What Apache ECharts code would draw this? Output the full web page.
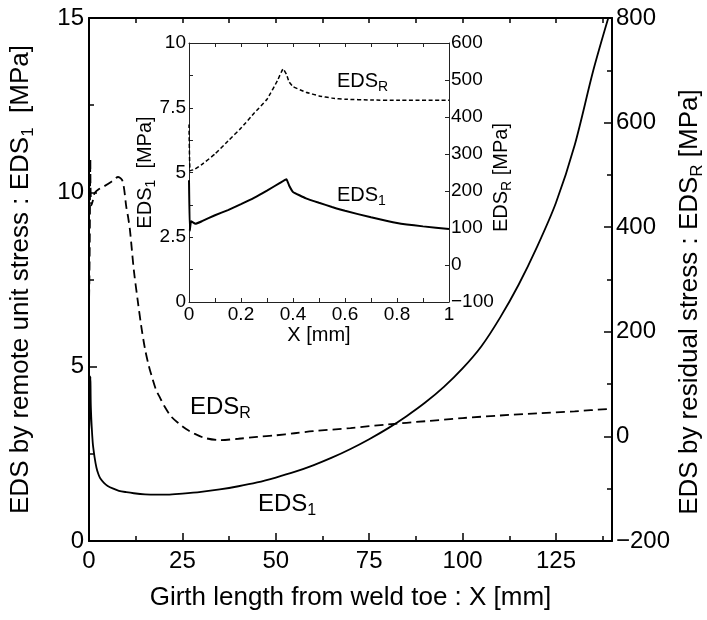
<!DOCTYPE html>
<html>
<head>
<meta charset="utf-8">
<script src="https://cdn.jsdelivr.net/npm/echarts@6/dist/echarts.min.js"></script>
<style>
  html, body { margin: 0; padding: 0; background: #fff; }
  #chart { width: 707px; height: 620px; }
</style>
</head>
<body>
<div id="chart"></div>
<script>
const FONT = '"Liberation Sans", Arial, Helvetica, sans-serif';

// main plot: girth length X [mm]
const mainX1 = [0, 0.003, 0.01, 0.1, 0.2, 0.375, 0.5, 1, 1.5, 2, 2.5, 3, 4, 5, 6.5, 8, 10, 12,
  15, 18, 21, 25, 30, 35, 40, 45, 50, 55, 60, 65, 70, 75, 80, 85, 90, 95, 100, 105,
  110, 115, 120, 125, 130, 135, 139];
const mainEds1 = [4.7, 2.75, 3.12, 3.35, 3.78, 4.72, 3.83, 2.82, 2.4, 2.1, 1.92, 1.8, 1.67, 1.58, 1.5, 1.44, 1.4, 1.37,
  1.34, 1.33, 1.33, 1.36, 1.41, 1.48, 1.57, 1.68, 1.82, 1.98, 2.17, 2.39, 2.64, 2.92, 3.23, 3.58, 3.97, 4.42, 4.95, 5.58,
  6.4, 7.35, 8.45, 9.7, 11.35, 13.5, 15];
const mainXR = [0, 0.004, 0.1, 0.2, 0.362, 0.4, 0.64, 1, 1.5, 2.5, 4, 6, 7.8, 9, 10, 10.5, 11, 12,
  13, 14, 15, 16, 17, 18, 19, 20, 22, 24, 26, 28, 31, 35, 40, 45, 50, 55, 60, 70,
  80, 90, 100, 110, 120, 130, 140];
const mainEdsR = [380, 255, 300, 370, 530, 482, 442, 450, 465, 472, 478, 487, 496, 488, 438, 418, 392, 318,
  262, 210, 167, 135, 110, 88, 74, 60, 38, 25, 14, 6, -3, -7, -4.5, -1, 2, 6, 10, 16,
  23, 29, 35, 40, 44, 48, 53];

// inset: first millimetre
const insetX1 = [0, 0.003, 0.008, 0.025, 0.05, 0.1, 0.15, 0.2, 0.25, 0.3, 0.35, 0.375, 0.385, 0.4,
  0.45, 0.5, 0.55, 0.6, 0.7, 0.8, 0.9, 1.0];
const insetEds1 = [4.7, 2.75, 3.12, 3.02, 3.12, 3.35, 3.55, 3.78, 4.02, 4.3, 4.6, 4.74, 4.5, 4.25,
  4.0, 3.83, 3.67, 3.52, 3.27, 3.05, 2.92, 2.82];
const insetXR = [0, 0.004, 0.02, 0.05, 0.1, 0.15, 0.2, 0.25, 0.3, 0.34, 0.362, 0.375, 0.385, 0.4,
  0.45, 0.5, 0.55, 0.6, 0.7, 0.8, 1.0];
const insetEdsR = [380, 255, 258, 272, 300, 335, 370, 410, 448, 498, 530, 515, 495, 482,
  467, 457, 451, 448, 446, 445, 445];

// labelled ticks
const mainXTicks = [0, 25, 50, 75, 100, 125];
const insetXTicks = [0, 0.2, 0.4, 0.6, 0.8, 1];
const insetYTicks = [0, 2.5, 5, 7.5, 10];

const zip = (xs, ys) => xs.map((x, i) => [x, ys[i]]);
const hasTick = (list, v) => list.some(t => Math.abs(t - v) < 1e-6);
const minus = v => (v < 0 ? '\u2212' + (-v) : String(v));

const richBig = {
  a: { fontFamily: FONT, fontSize: 26, lineHeight: 32, color: '#000', verticalAlign: 'middle' },
  s: { fontFamily: FONT, fontSize: 17, lineHeight: 15, color: '#000', verticalAlign: 'bottom' }
};
const richMid = {
  a: { fontFamily: FONT, fontSize: 24, lineHeight: 30, color: '#000', verticalAlign: 'middle' },
  s: { fontFamily: FONT, fontSize: 16, lineHeight: 14, color: '#000', verticalAlign: 'bottom' }
};
const richSmall = {
  a: { fontFamily: FONT, fontSize: 20, lineHeight: 26, color: '#000', verticalAlign: 'middle' },
  s: { fontFamily: FONT, fontSize: 14, lineHeight: 12, color: '#000', verticalAlign: 'bottom' }
};

const mainLine = { show: true, onZero: false, lineStyle: { color: '#000', width: 2 } };
const mainTick = { color: '#000', width: 1.5 };
const insetLine = { show: true, onZero: false, lineStyle: { color: '#222', width: 1 } };
const insetTick = { color: '#222', width: 1 };
const bigLabel = { fontFamily: FONT, fontSize: 24, color: '#000' };
const smallLabel = { fontFamily: FONT, fontSize: 19, color: '#000' };

const chart = echarts.init(document.getElementById('chart'));

chart.setOption({
  animation: false,
  backgroundColor: '#fff',
  grid: [
    { left: 89, right: 95, top: 18, bottom: 79, outerBoundsMode: 'none' },
    { left: 189, top: 43, width: 260, height: 259, outerBoundsMode: 'none' }
  ],
  xAxis: [
    {
      gridIndex: 0, type: 'value', position: 'bottom', min: 0, max: 140, interval: 12.5,
      axisLine: mainLine,
      axisTick: { inside: true, length: 5, lineStyle: mainTick },
      axisLabel: Object.assign({ margin: 8, formatter: v => (hasTick(mainXTicks, v) ? String(v) : '') }, bigLabel),
      splitLine: { show: false },
      name: 'Girth length from weld toe : X [mm]', nameLocation: 'middle', nameGap: 44, nameMoveOverlap: false,
      nameTextStyle: { fontFamily: FONT, fontSize: 26, color: '#000' }
    },
    {
      gridIndex: 0, type: 'value', position: 'bottom', min: 0, max: 140, interval: 25,
      axisLine: { show: false, onZero: false },
      axisTick: { inside: true, length: 8, lineStyle: mainTick },
      axisLabel: { show: false }, splitLine: { show: false }
    },
    {
      gridIndex: 0, type: 'value', position: 'top', min: 0, max: 140, interval: 12.5,
      axisLine: mainLine,
      axisTick: { inside: true, length: 5, lineStyle: mainTick },
      axisLabel: { show: false }, splitLine: { show: false }
    },
    {
      gridIndex: 1, type: 'value', position: 'bottom', min: 0, max: 1, interval: 0.1,
      axisLine: insetLine,
      axisTick: { inside: true, length: 4, lineStyle: insetTick },
      axisLabel: Object.assign({ margin: 3, formatter: v => (hasTick(insetXTicks, v) ? String(+v.toFixed(1)) : '') }, smallLabel),
      splitLine: { show: false },
      name: 'X [mm]', nameLocation: 'middle', nameGap: 23, nameMoveOverlap: false,
      nameTextStyle: { fontFamily: FONT, fontSize: 20, color: '#000' }
    },
    {
      gridIndex: 1, type: 'value', position: 'top', min: 0, max: 1, interval: 0.1,
      axisLine: insetLine,
      axisTick: { inside: true, length: 4, lineStyle: insetTick },
      axisLabel: { show: false }, splitLine: { show: false }
    }
  ],
  yAxis: [
    {
      gridIndex: 0, type: 'value', position: 'left', min: 0, max: 15, interval: 5,
      axisLine: mainLine,
      axisTick: { inside: true, length: 8, lineStyle: mainTick },
      minorTick: { show: true, splitNumber: 2, length: 5, lineStyle: mainTick },
      axisLabel: Object.assign({ margin: 5 }, bigLabel),
      splitLine: { show: false },
      name: '{a|EDS by remote unit stress : EDS}{s|1}{a|  [MPa]}',
      nameLocation: 'middle', nameRotate: 90, nameGap: 52, nameMoveOverlap: false,
      nameTextStyle: { rich: richBig }
    },
    {
      gridIndex: 0, type: 'value', position: 'right', min: -200, max: 800, interval: 200,
      axisLine: mainLine,
      axisTick: { inside: true, length: 8, lineStyle: mainTick },
      minorTick: { show: true, splitNumber: 2, length: 5, lineStyle: mainTick },
      axisLabel: Object.assign({ margin: 4, formatter: minus }, bigLabel),
      splitLine: { show: false },
      name: '{a|EDS by residual stress : EDS}{s|R}{a| [MPa]}',
      nameLocation: 'middle', nameRotate: 90, nameGap: 62, nameMoveOverlap: false,
      nameTextStyle: { rich: richBig, padding: [0, 45, 0, 0] }
    },
    {
      gridIndex: 1, type: 'value', position: 'left', min: 0, max: 10, interval: 1.25,
      axisLine: insetLine,
      axisTick: { inside: true, length: 4, lineStyle: insetTick },
      axisLabel: Object.assign({ margin: 3, formatter: v => (hasTick(insetYTicks, v) ? String(v) : '') }, smallLabel),
      splitLine: { show: false },
      name: '{a|EDS}{s|1}{a|  [MPa]}',
      nameLocation: 'middle', nameRotate: 90, nameGap: 31, nameMoveOverlap: false,
      nameTextStyle: { rich: richSmall }
    },
    {
      gridIndex: 1, type: 'value', position: 'right', min: -100, max: 600, interval: 100,
      axisLine: insetLine,
      axisTick: { inside: true, length: 4, lineStyle: insetTick },
      axisLabel: Object.assign({ margin: 2, formatter: minus }, smallLabel),
      splitLine: { show: false },
      name: '{a|EDS}{s|R}{a| [MPa]}',
      nameLocation: 'middle', nameRotate: 90, nameGap: 39, nameMoveOverlap: false,
      nameTextStyle: { rich: richSmall, padding: [0, 10, 0, 0] }
    }
  ],
  series: [
    {
      type: 'line', xAxisIndex: 0, yAxisIndex: 0, data: zip(mainX1, mainEds1),
      symbol: 'none', smooth: 0.3,
      lineStyle: { color: '#000', width: 1.8 }
    },
    {
      type: 'line', xAxisIndex: 0, yAxisIndex: 1, data: zip(mainXR, mainEdsR),
      symbol: 'none', smooth: 0.3,
      lineStyle: { color: '#000', width: 1.8, type: [9, 5] }
    },
    {
      type: 'line', xAxisIndex: 3, yAxisIndex: 2, data: zip(insetX1, insetEds1),
      symbol: 'none', smooth: 0.1,
      lineStyle: { color: '#000', width: 2 }
    },
    {
      type: 'line', xAxisIndex: 3, yAxisIndex: 3, data: zip(insetXR, insetEdsR),
      symbol: 'none', smooth: 0.1,
      lineStyle: { color: '#000', width: 1.5, type: [4, 2.5] }
    }
  ],
  graphic: [
    { type: 'text', x: 190, y: 392, style: { text: '{a|EDS}{s|R}', rich: richMid, align: 'left', verticalAlign: 'top' } },
    { type: 'text', x: 258, y: 489, style: { text: '{a|EDS}{s|1}', rich: richMid, align: 'left', verticalAlign: 'top' } },
    { type: 'text', x: 337, y: 68, style: { text: '{a|EDS}{s|R}', rich: richSmall, align: 'left', verticalAlign: 'top' } },
    { type: 'text', x: 337, y: 182, style: { text: '{a|EDS}{s|1}', rich: richSmall, align: 'left', verticalAlign: 'top' } }
  ]
});
</script>
</body>
</html>
